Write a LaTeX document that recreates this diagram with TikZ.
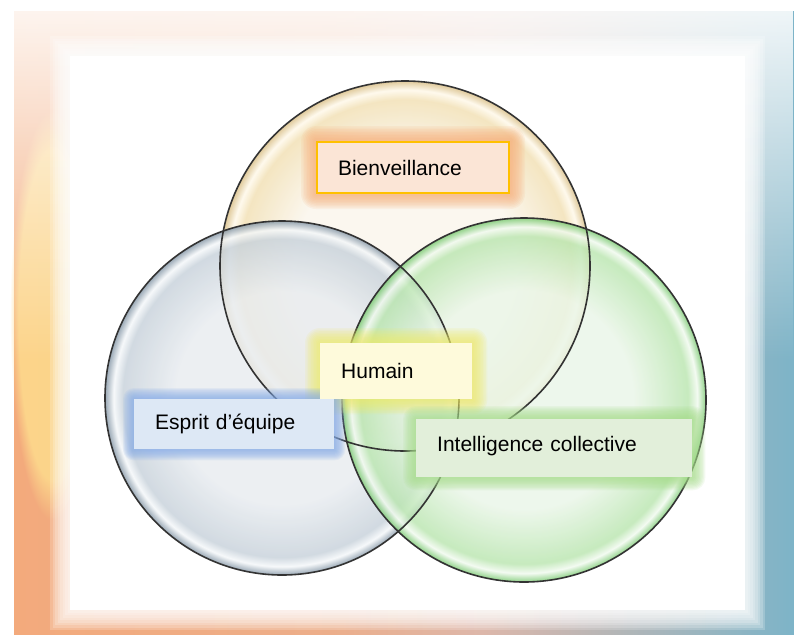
\documentclass[tikz,border=0pt]{standalone}
\usepackage{fontspec}
\setmainfont{Liberation Sans}
\usepackage{tikz}
\usetikzlibrary{calc,fadings}

\definecolor{frOrange}{HTML}{F3AA7C}
\definecolor{frMid}{HTML}{DDB7AA}
\definecolor{frTeal}{HTML}{7DB4C8}
\definecolor{frYellow}{HTML}{FDD98C}
\definecolor{topIn}{HTML}{FBF6EC}
\definecolor{topMid}{HTML}{F2E0B4}
\definecolor{topHi}{HTML}{FFF9EA}
\definecolor{topRim}{HTML}{D9BE85}
\definecolor{blIn}{HTML}{E8ECF0}
\definecolor{blMid}{HTML}{C8D2DB}
\definecolor{blHi}{HTML}{F5F8FA}
\definecolor{blRim}{HTML}{8496A6}
\definecolor{grIn}{HTML}{EAF6E8}
\definecolor{grMid}{HTML}{BAE6B0}
\definecolor{grHi}{HTML}{F1FAEF}
\definecolor{grRim}{HTML}{79C970}
\definecolor{bxOr}{HTML}{FBE5D6}
\definecolor{bxLine}{HTML}{FFC000}
\definecolor{bxYe}{HTML}{FEFADB}
\definecolor{bxBl}{HTML}{DDE8F5}
\definecolor{bxGr}{HTML}{E2EFDA}
\definecolor{glOr}{HTML}{F6AE78}
\definecolor{glYe}{HTML}{EEEA6A}
\definecolor{glBl}{HTML}{86ACE8}
\definecolor{glGr}{HTML}{A6DD8A}

\pgfdeclareradialshading{topglass}{\pgfpoint{0bp}{0bp}}{color(0bp)=(topIn); color(15bp)=(topIn); color(22.5bp)=(topMid); color(23.8bp)=(topHi); color(25bp)=(topRim); color(50bp)=(topRim)}
\pgfdeclareradialshading{blueglass}{\pgfpoint{0bp}{0bp}}{color(0bp)=(blIn); color(15bp)=(blIn); color(22.5bp)=(blMid); color(23.8bp)=(blHi); color(25bp)=(blRim); color(50bp)=(blRim)}
\pgfdeclareradialshading{greenglass}{\pgfpoint{0bp}{0bp}}{color(0bp)=(grIn); color(15bp)=(grIn); color(22.5bp)=(grMid); color(23.8bp)=(grHi); color(25bp)=(grRim); color(50bp)=(grRim)}
\pgfdeclarehorizontalshading{frameshade}{100bp}{color(0bp)=(frOrange); color(25bp)=(frOrange); color(45bp)=(frOrange!70!frMid); color(55bp)=(frMid); color(75bp)=(frTeal); color(100bp)=(frTeal)}
\tikzfading[name=fadedown, top color=transparent!0, bottom color=transparent!100]

\pgfdeclarelayer{frame}
\pgfdeclarelayer{rims}
\pgfdeclarelayer{glow}
\pgfdeclarelayer{boxes}
\pgfsetlayers{frame,main,rims,glow,boxes}

\tikzset{
  bubble/.style={circle, inner sep=0pt, shade, fill opacity=0.82},
  rim/.style={draw=black!80, line width=1.6pt},
  lbl/.style={anchor=north west, inner xsep=21pt, inner ysep=0pt, align=left,
    font=\fontsize{21}{25}\selectfont, text=black}
}

\begin{document}
\begin{tikzpicture}[x=1pt, y=-1pt]
\useasboundingbox (0,0) rectangle (794,637);
\begin{pgfonlayer}{frame}
\fill[white] (0,0) rectangle (794,637);
\shade[shading=frameshade] (14,11) rectangle (794,634);
\fill[frYellow, fill opacity=0.9, path fading=circle with fuzzy edge 20 percent] (10,110) rectangle (95,520);
\fill[white, fill opacity=0.88, path fading=fadedown] (14,11) rectangle (794,360);
\foreach \k in {1,...,8}
  \fill[white, opacity=0.2] (70-\k*2.5,56-\k*2.5) rectangle (745+\k*2.5,610+\k*2.5);
\fill[white] (70,56) rectangle (745,610);
\end{pgfonlayer}

\node[bubble, shading=topglass, minimum size=370pt] (bienvc) at (405,266) {};
\node[bubble, shading=blueglass, minimum size=354pt] (espritc) at (282,398) {};
\node[bubble, shading=greenglass, minimum size=364pt] (intelc) at (524,400) {};

\begin{pgfonlayer}{rims}
\foreach \c/\r in {bienvc/185, espritc/177, intelc/182}
  \draw[rim] (\c.center) circle[radius=\r pt];
\end{pgfonlayer}

\begin{pgfonlayer}{boxes}
\node[lbl, fill=bxOr, draw=bxLine, line width=2pt, text width=150pt, minimum height=51pt] (bienv) at (316,141) {Bienveillance};
\node[lbl, fill=bxYe, text width=110pt, minimum height=56pt] (humain) at (320,343) {Humain};
\node[lbl, fill=bxBl, text width=158pt, minimum height=50pt] (esprit) at (134,399) {Esprit d’équipe};
\node[lbl, fill=bxGr, text width=234pt, minimum height=58pt, text depth=9pt] (intel) at (416,419) {Intelligence collective};
\end{pgfonlayer}

\begin{pgfonlayer}{glow}
\foreach \bx/\gc/\gs in {bienv/glOr/1.5, humain/glYe/1.5, esprit/glBl/1.1, intel/glGr/1.3}
  \foreach \k in {1,...,10} {
    \pgfmathsetmacro{\gd}{\k*\gs}
    \fill[\gc, opacity=0.12, rounded corners=\gd pt] ($(\bx.south west)+(-\gd pt,-\gd pt)$) rectangle ($(\bx.north east)+(\gd pt,\gd pt)$);
  }
\end{pgfonlayer}
\end{tikzpicture}
\end{document}
